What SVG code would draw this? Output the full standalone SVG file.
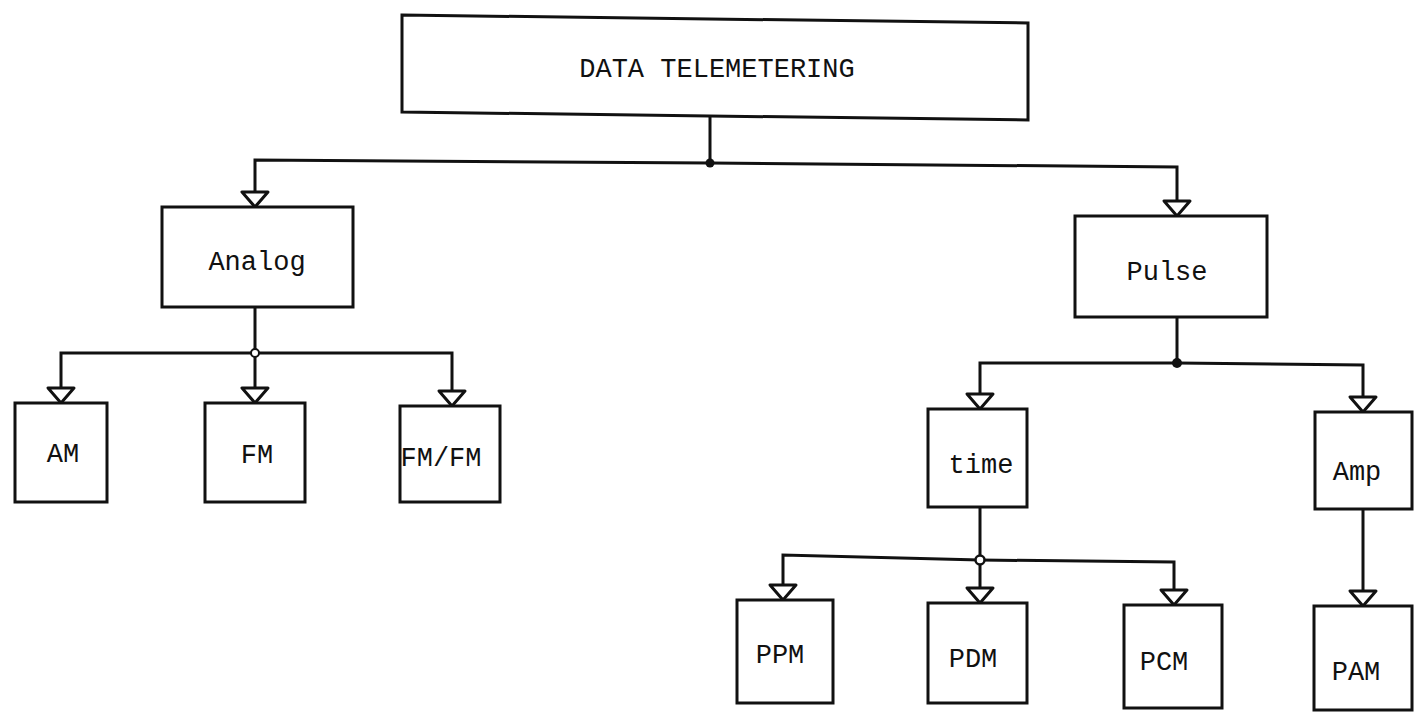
<svg xmlns="http://www.w3.org/2000/svg" width="1418" height="721" viewBox="0 0 1418 721">
<style>
.box{fill:#fff;stroke:#111;stroke-width:3;stroke-linejoin:miter}
.lbl{font-family:"Liberation Mono","DejaVu Sans Mono",monospace;font-size:27px;fill:#111;text-anchor:middle}
.con{fill:none;stroke:#111;stroke-width:3;marker-end:url(#arr)}
.plain{fill:none;stroke:#111;stroke-width:3}
</style>
<defs>
<marker id="arr" markerUnits="userSpaceOnUse" markerWidth="24" markerHeight="34" viewBox="-3 -3 24 34" refX="15" refY="13" orient="auto" overflow="visible">
<path d="M0,0 L15,13 L0,26 Z" fill="#fff" stroke="#111" stroke-width="3" stroke-linejoin="round"/>
</marker>
</defs>
<rect width="1418" height="721" fill="#fff"/>
<g id="connectors">
<path class="plain" d="M710,114 V163"/>
<path class="con" d="M710,163 L255,160 V207"/>
<path class="con" d="M710,163 L1177,167 V216"/>
<path class="plain" d="M255,307 V353"/>
<path class="con" d="M255,353 H61 V403"/>
<path class="con" d="M255,353 V403"/>
<path class="con" d="M255,353 H452 V406"/>
<path class="plain" d="M1177,317 V363"/>
<path class="con" d="M1177,363 H980 V409"/>
<path class="con" d="M1177,363 L1363,365 V412"/>
<path class="plain" d="M980,507 V560"/>
<path class="con" d="M980,560 L783,555 V600"/>
<path class="con" d="M980,560 V603"/>
<path class="con" d="M980,560 L1174,562 V605"/>
<path class="con" d="M1363,509 V606"/>
<circle cx="710" cy="163" r="4.5" fill="#111"/>
<circle cx="1177" cy="363" r="5" fill="#111"/>
<circle cx="255" cy="353" r="4" fill="#fff" stroke="#111" stroke-width="2"/>
<circle cx="980" cy="560" r="4.5" fill="#fff" stroke="#111" stroke-width="2.5"/>
</g>
<g id="node-data-telemetering">
<polygon class="box" points="402,15 1028,23 1028,120 402,112"/>
<text class="lbl" x="717" y="77">DATA TELEMETERING</text>
</g>
<g id="node-analog">
<rect class="box" x="162" y="207" width="191" height="100"/>
<text class="lbl" x="257" y="270">Analog</text>
</g>
<g id="node-pulse">
<rect class="box" x="1075" y="216" width="192" height="101"/>
<text class="lbl" x="1167" y="280">Pulse</text>
</g>
<g id="node-am">
<rect class="box" x="15" y="403" width="92" height="99"/>
<text class="lbl" x="63" y="462">AM</text>
</g>
<g id="node-fm">
<rect class="box" x="205" y="403" width="100" height="99"/>
<text class="lbl" x="257" y="463">FM</text>
</g>
<g id="node-fmfm">
<rect class="box" x="400" y="406" width="100" height="96"/>
<text class="lbl" x="441" y="466">FM/FM</text>
</g>
<g id="node-time">
<rect class="box" x="928" y="409" width="99" height="98"/>
<text class="lbl" x="981" y="473">time</text>
</g>
<g id="node-amp">
<rect class="box" x="1315" y="412" width="97" height="97"/>
<text class="lbl" x="1357" y="480">Amp</text>
</g>
<g id="node-ppm">
<rect class="box" x="737" y="600" width="96" height="103"/>
<text class="lbl" x="780" y="663">PPM</text>
</g>
<g id="node-pdm">
<rect class="box" x="928" y="603" width="99" height="100"/>
<text class="lbl" x="973" y="667">PDM</text>
</g>
<g id="node-pcm">
<rect class="box" x="1124" y="605" width="98" height="103"/>
<text class="lbl" x="1164" y="670">PCM</text>
</g>
<g id="node-pam">
<rect class="box" x="1314" y="606" width="98" height="104"/>
<text class="lbl" x="1356" y="680">PAM</text>
</g>
</svg>
